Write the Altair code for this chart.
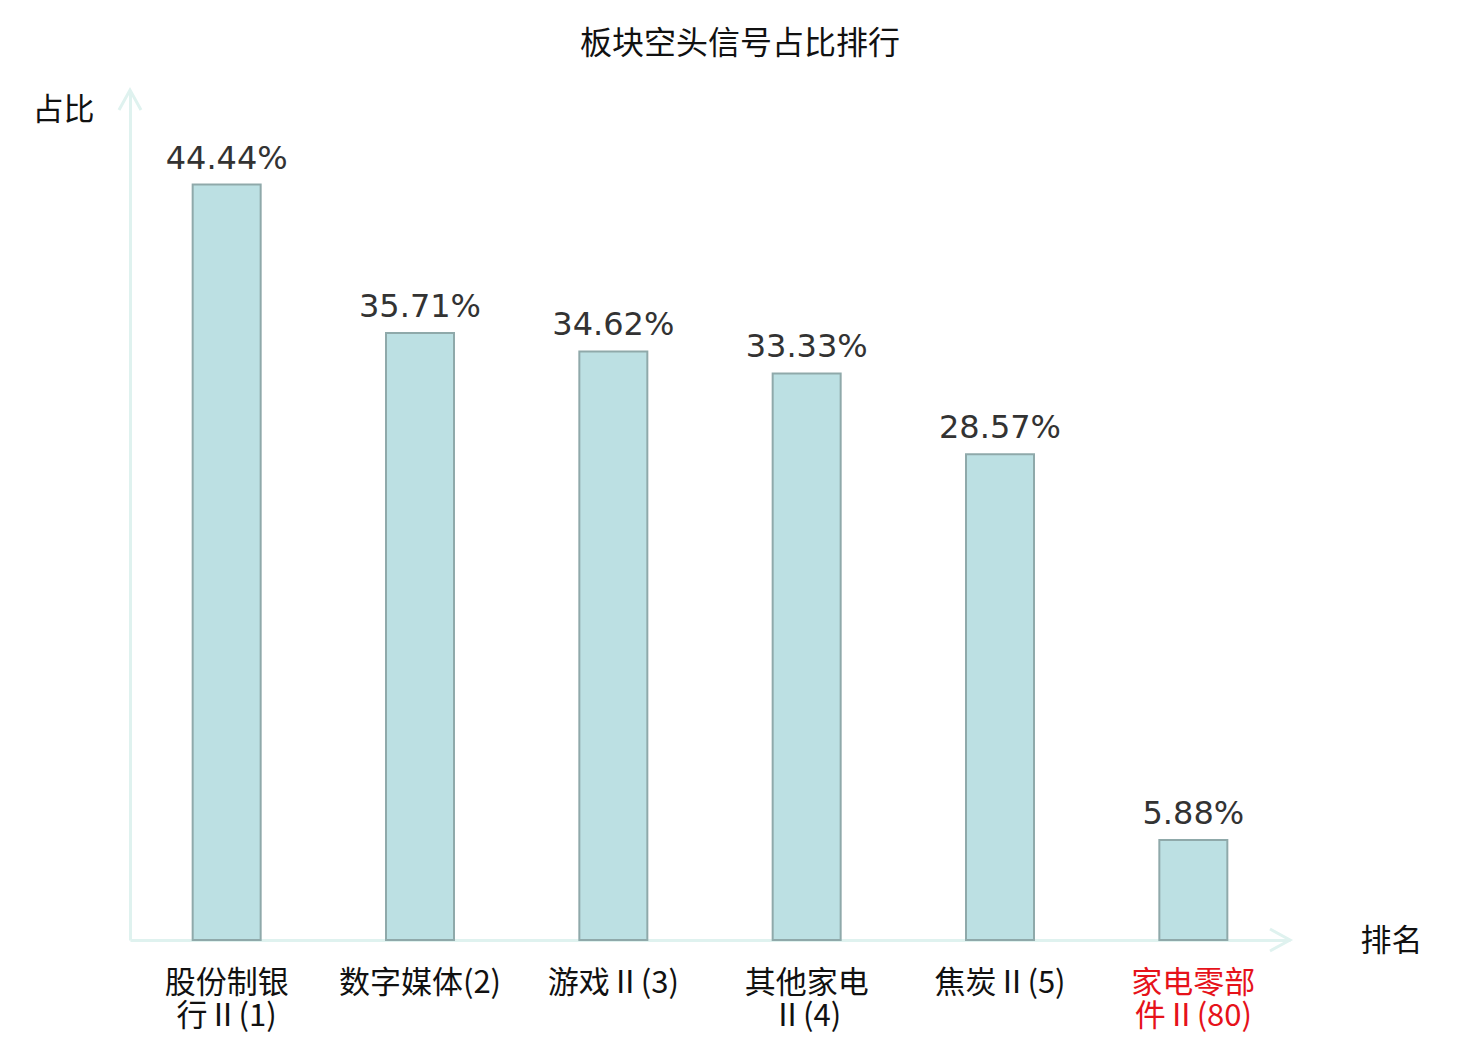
import altair as alt
import pandas as pd

# data
categories = ["股份制银行Ⅱ(1)", "数字媒体(2)", "游戏Ⅱ(3)", "其他家电Ⅱ(4)", "焦炭Ⅱ(5)", "家电零部件Ⅱ(80)"]
label_lines = ["股份制银|行Ⅱ(1)", "数字媒体(2)", "游戏Ⅱ(3)", "其他家电|Ⅱ(4)", "焦炭Ⅱ(5)", "家电零部|件Ⅱ(80)"]
values = [44.44, 35.71, 34.62, 33.33, 28.57, 5.88]
value_text = ["44.44%", "35.71%", "34.62%", "33.33%", "28.57%", "5.88%"]
highlight = "家电零部|件Ⅱ(80)"

df = pd.DataFrame({"cat": categories, "lab": label_lines, "v": values, "t": value_text})

W, H = 1160, 850
AX = "#dff2ef"
CJK = "Noto Sans CJK SC"

x_enc = alt.X(
    "lab:N",
    sort=None,
    scale=alt.Scale(paddingInner=0, paddingOuter=0),
    axis=alt.Axis(
        title="排名",
        titleFont=CJK, titleFontSize=31, titleFontWeight="normal", titleColor="#111",
        titleAngle=0, titleAlign="center", titleBaseline="middle",
        titleX=1261, titleY=1,
        labelExpr="split(datum.label, '|')",
        labelFont=CJK, labelFontSize=31, labelLineHeight=33,
        labelColor={"expr": f"datum.value == '{highlight}' ? '#e6121a' : '#111'"},
        labelAngle=0, labelPadding=28, labelBaseline="top",
        ticks=False, domainColor=AX, domainWidth=3, grid=False,
    ),
)
y_enc = alt.Y(
    "v:Q",
    scale=alt.Scale(domain=[0, 50], nice=False),
    axis=alt.Axis(
        title="占比",
        titleFont=CJK, titleFontSize=31, titleFontWeight="normal", titleColor="#111",
        titleAngle=0, titleAlign="center", titleBaseline="middle",
        titleX=-67, titleY=20,
        labels=False, ticks=False, grid=False,
        domainColor=AX, domainWidth=3,
    ),
)

base = alt.Chart(df)

bars = base.mark_bar(width=68, color="#bce0e3", stroke="#8fa9aa", strokeWidth=2).encode(x=x_enc, y=y_enc)

texts = base.mark_text(
    font="DejaVu Sans", fontSize=32, color="#333", baseline="alphabetic", dy=-16
).encode(x=alt.X("lab:N", sort=None), y="v:Q", text="t:N")

one = alt.Data(values=[{"a": 1}])
arrow_up = alt.Chart(one).mark_point(
    shape="M-0.55,1L0,0L0.55,1", size=1600, filled=False, stroke=AX, strokeWidth=3, opacity=1
).encode(x=alt.value(0), y=alt.value(0))
arrow_right = alt.Chart(one).mark_point(
    shape="M-1,-0.55L0,0L-1,0.55", size=1600, filled=False, stroke=AX, strokeWidth=3, opacity=1
).encode(x=alt.value(W), y=alt.value(H))

chart = alt.layer(bars, texts, arrow_up, arrow_right).properties(
    width=W, height=H,
    background="white",
    title=alt.TitleParams(
        "板块空头信号占比排行", font=CJK, fontSize=32, fontWeight="normal", color="#111",
        anchor="middle", dx=30, offset=23,
    ),
    padding={"left": 122, "top": 82, "right": 182, "bottom": 92},
    autosize=alt.AutoSizeParams(type="none"),
).configure_view(strokeWidth=0, stroke="transparent")

chart.save("out.html", embed_options={"renderer": "svg", "actions": False})
